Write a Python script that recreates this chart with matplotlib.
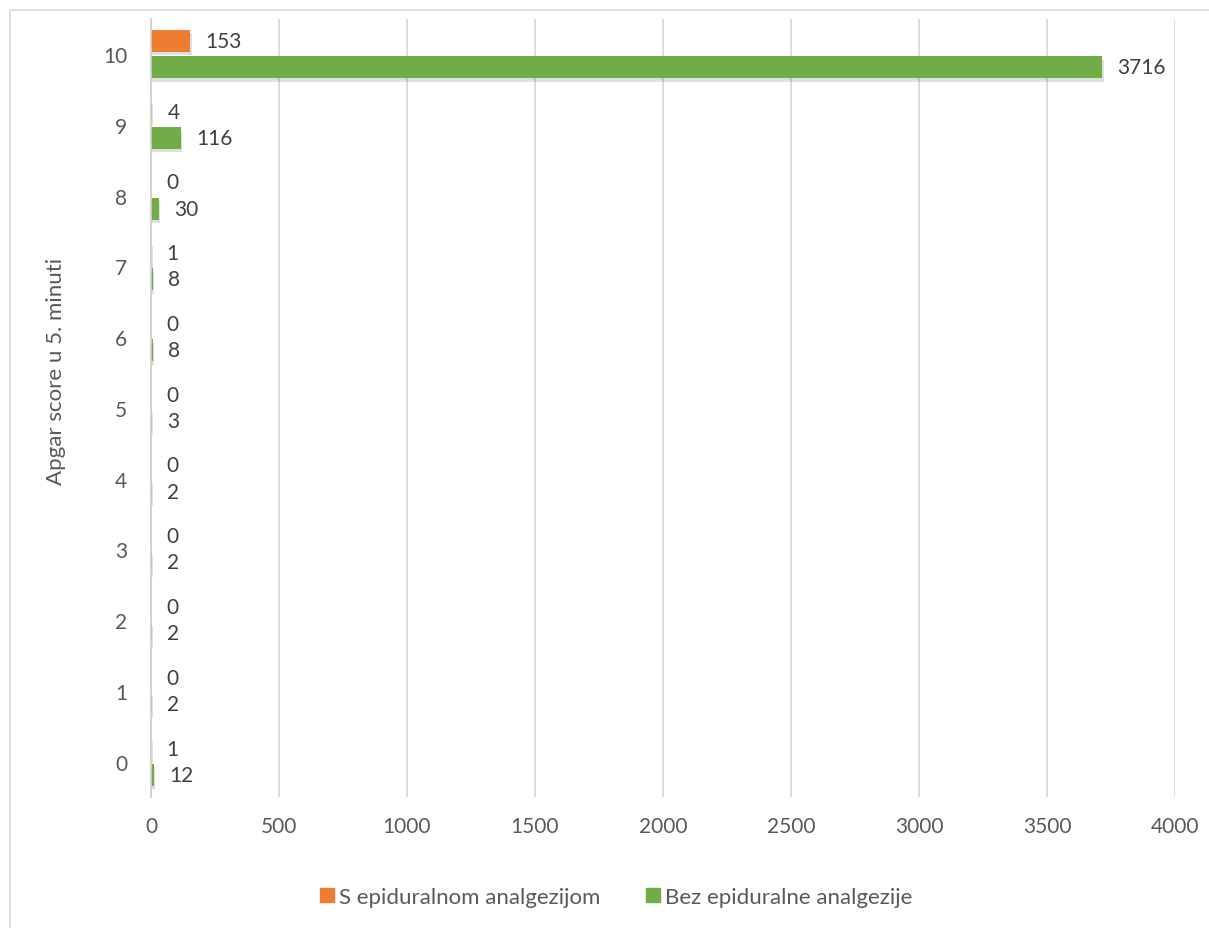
import numpy as np
import matplotlib
matplotlib.use("Agg")
from matplotlib import pyplot as plt
from matplotlib import patheffects
from matplotlib.patches import Rectangle
from matplotlib.lines import Line2D

plt.rcParams['font.family'] = ['Lato', 'DejaVu Sans']

scores = [0, 1, 2, 3, 4, 5, 6, 7, 8, 9, 10]
withEpidural = [1, 0, 0, 0, 0, 0, 0, 1, 0, 4, 153]
withoutEpidural = [12, 2, 2, 2, 2, 3, 8, 8, 30, 116, 3716]
seriesNames = ["S epiduralnom analgezijom", "Bez epiduralne analgezije"]

orange = "#ED7D31"
green = "#70AD47"
textColor = "#595959"

fig = plt.figure(figsize=(12.09, 9.29), dpi=100)
ax = fig.add_axes([0.1249, 0.141, 0.847, 0.8379])

# chart border
fig.add_artist(Rectangle((10 / 1209, -0.01), 1.02, 1 - 11 / 929 + 0.01,
                         transform=fig.transFigure, fill=False,
                         edgecolor="#D9D9D9", linewidth=1.2))

y = np.arange(len(scores))
barH = 0.31
shadow = [patheffects.SimplePatchShadow(offset=(1, -2.5), shadow_rgbFace="#000000", alpha=0.12),
          patheffects.Normal()]

barsOrange = ax.barh(y + 0.185, withEpidural, height=barH, color=orange,
                     path_effects=shadow)
barsGreen = ax.barh(y - 0.185, withoutEpidural, height=barH, color=green,
                    path_effects=shadow)

ax.bar_label(barsOrange, padding=11, fontsize=15, color="#404040")
ax.bar_label(barsGreen, padding=11, fontsize=15, color="#404040")

ax.set_xlim(0, 4000)
ax.set_ylim(-0.5, len(scores) - 0.5)
ax.set_xticks(np.arange(0, 4001, 500))
ax.set_yticks(y)
ax.set_yticklabels([str(s) for s in scores])
ax.tick_params(axis="both", length=0, labelsize=15, colors=textColor)
ax.tick_params(axis="x", pad=14)
ax.tick_params(axis="y", pad=17)

ax.grid(axis="x", color="#D9D9D9", linewidth=1.3)
ax.set_axisbelow(True)
for side in ["top", "right", "bottom"]:
    ax.spines[side].set_visible(False)
ax.spines["left"].set_color("#D0D0D0")
ax.spines["left"].set_linewidth(1.3)

ax.set_ylabel("Apgar score u 5. minuti", fontsize=16, color=textColor)
ax.yaxis.set_label_coords(-0.083, 0.5486)

handles = [Line2D([], [], marker="s", linestyle="none", markersize=10,
                  markerfacecolor=orange, markeredgecolor=orange),
           Line2D([], [], marker="s", linestyle="none", markersize=10,
                  markerfacecolor=green, markeredgecolor=green)]
fig.legend(handles, seriesNames, loc="center", bbox_to_anchor=(0.5095, 1 - 898 / 929),
           ncol=2, frameon=False, fontsize=16, labelcolor=textColor,
           handletextpad=0.2, columnspacing=2.0, handlelength=0.7)

fig.savefig("out.png", dpi=100)
